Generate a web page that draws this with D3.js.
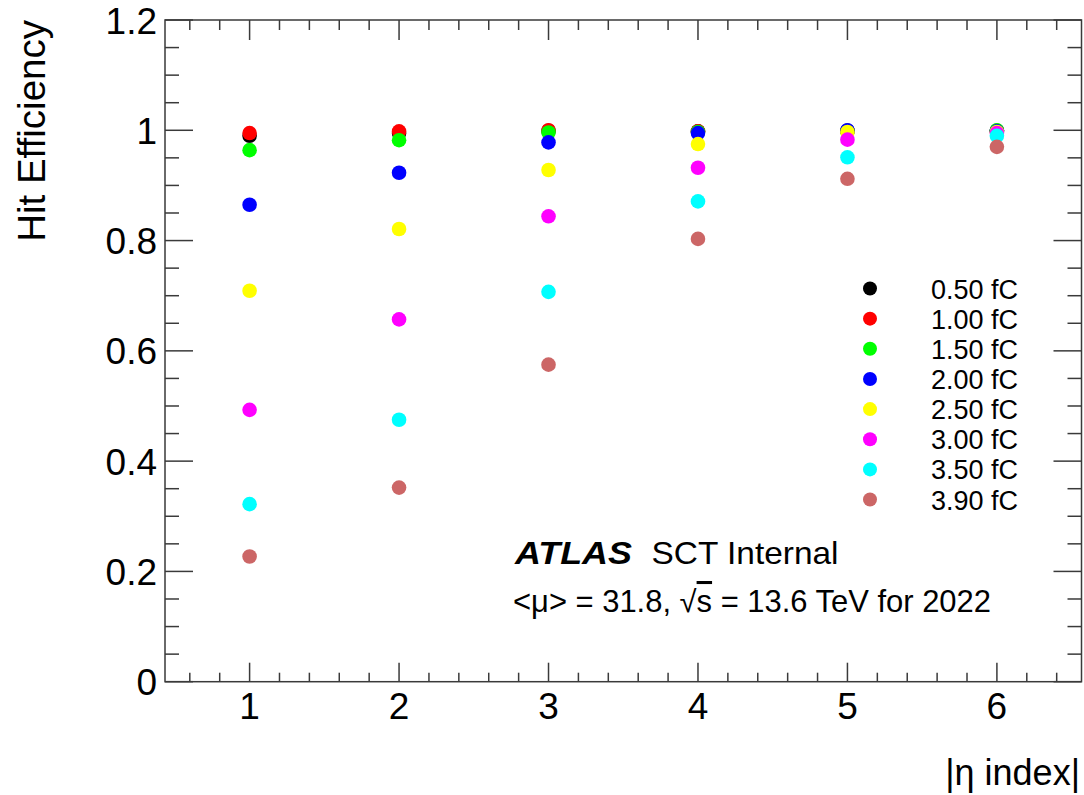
<!DOCTYPE html>
<html>
<head>
<meta charset="utf-8">
<script src="https://cdn.jsdelivr.net/npm/d3@7"></script>
<style>
  html, body { margin: 0; padding: 0; background: #fff; }
  svg { display: block; }
  text { font-family: "Liberation Sans", Arial, Helvetica, sans-serif; fill: #000; }
</style>
</head>
<body>
<svg id="chart" width="1084" height="795"></svg>
<script>
// ---- data ----
const etaIndex = [1, 2, 3, 4, 5, 6];
const seriesLabels = ["0.50 fC", "1.00 fC", "1.50 fC", "2.00 fC", "2.50 fC", "3.00 fC", "3.50 fC", "3.90 fC"];
const seriesColors = ["#000000", "#ff0000", "#00ff00", "#0000ff", "#ffff00", "#ff00ff", "#00ffff", "#cc6666"];
const eff050 = [0.990, 0.995, 0.999, 0.998, 0.999, 0.999];
const eff100 = [0.995, 0.998, 1.000, 0.998, 0.999, 0.999];
const eff150 = [0.964, 0.982, 0.996, 0.997, 0.999, 1.000];
const eff200 = [0.865, 0.923, 0.978, 0.995, 1.000, 0.998];
const eff250 = [0.709, 0.821, 0.928, 0.975, 0.997, 0.997];
const eff300 = [0.493, 0.657, 0.844, 0.932, 0.983, 0.995];
const eff350 = [0.322, 0.475, 0.707, 0.871, 0.951, 0.990];
const eff390 = [0.227, 0.352, 0.575, 0.803, 0.912, 0.970];
const seriesValues = [eff050, eff100, eff150, eff200, eff250, eff300, eff350, eff390];
const yTickValues = [0, 0.2, 0.4, 0.6, 0.8, 1, 1.2];
const yTickLabels = ["0", "0.2", "0.4", "0.6", "0.8", "1", "1.2"];
const xTickLabels = ["1", "2", "3", "4", "5", "6"];

// ---- layout ----
const svg = d3.select("#chart");
const L = 165, R = 1081.5, T = 20, B = 681.7;
const x = d3.scaleLinear().domain([0.434, 6.566]).range([L, R]);
const y = d3.scaleLinear().domain([0, 1.2]).range([B, T]);
const frameColor = "#3a3a3a";

// frame
svg.append("rect").attr("x", L).attr("y", T).attr("width", R - L).attr("height", B - T)
  .attr("fill", "none").attr("stroke", frameColor).attr("stroke-width", 1.5);

// ticks
const xMinor = d3.range(0.6, 6.45, 0.2).filter(v => Math.abs(v - Math.round(v)) > 0.01);
const yMinor = d3.range(0.05, 1.2, 0.05).filter(v => Math.abs(v * 5 - Math.round(v * 5)) > 0.01);
const tg = svg.append("g").attr("stroke", frameColor).attr("stroke-width", 1.5);
etaIndex.forEach(v => {
  tg.append("line").attr("x1", x(v)).attr("x2", x(v)).attr("y1", B).attr("y2", B - 19);
  tg.append("line").attr("x1", x(v)).attr("x2", x(v)).attr("y1", T).attr("y2", T + 20);
});
xMinor.forEach(v => {
  tg.append("line").attr("x1", x(v)).attr("x2", x(v)).attr("y1", B).attr("y2", B - 9);
  tg.append("line").attr("x1", x(v)).attr("x2", x(v)).attr("y1", T).attr("y2", T + 10);
});
yTickValues.forEach(v => {
  tg.append("line").attr("x1", L).attr("x2", L + 28).attr("y1", y(v)).attr("y2", y(v));
  tg.append("line").attr("x1", R).attr("x2", R - 28).attr("y1", y(v)).attr("y2", y(v));
});
yMinor.forEach(v => {
  tg.append("line").attr("x1", L).attr("x2", L + 14).attr("y1", y(v)).attr("y2", y(v));
  tg.append("line").attr("x1", R).attr("x2", R - 14).attr("y1", y(v)).attr("y2", y(v));
});

// tick labels
yTickValues.forEach((v, i) => {
  svg.append("text").attr("x", 157).attr("y", y(v) + 13.5).attr("text-anchor", "end")
    .attr("font-size", 37).text(yTickLabels[i]);
});
etaIndex.forEach((v, i) => {
  svg.append("text").attr("x", x(v)).attr("y", 718.5).attr("text-anchor", "middle")
    .attr("font-size", 37).text(xTickLabels[i]);
});

// axis titles
svg.append("text").attr("transform", "translate(45,20) rotate(-90)").attr("text-anchor", "end")
  .attr("font-size", 38.5).text("Hit Efficiency");
svg.append("text").attr("x", 1080).attr("y", 785).attr("text-anchor", "end")
  .attr("font-size", 36).text("|η index|");

// points
seriesValues.forEach((vals, s) => {
  svg.append("g").selectAll("circle").data(vals).join("circle")
    .attr("cx", (d, i) => x(etaIndex[i])).attr("cy", d => y(d)).attr("r", 7.3)
    .attr("fill", seriesColors[s]);
});

// legend
seriesLabels.forEach((lab, i) => {
  const ly = 288.5 + i * 30.15;
  svg.append("circle").attr("cx", 870).attr("cy", ly).attr("r", 7).attr("fill", seriesColors[i]);
  svg.append("text").attr("x", 931).attr("y", ly + 10).attr("font-size", 27).text(lab);
});

// ATLAS label
svg.append("text").attr("x", 515).attr("y", 563.5).attr("font-size", 30.5)
  .attr("font-weight", "bold").attr("font-style", "italic")
  .attr("textLength", 117).attr("lengthAdjust", "spacingAndGlyphs").text("ATLAS");
svg.append("text").attr("x", 651.5).attr("y", 563.5).attr("font-size", 30.5)
  .attr("textLength", 187).attr("lengthAdjust", "spacingAndGlyphs").text("SCT Internal");

const t2 = svg.append("text").attr("x", 513).attr("y", 612).attr("font-size", 30.5)
  .attr("textLength", 478).attr("lengthAdjust", "spacingAndGlyphs");
t2.append("tspan").text("<μ> = 31.8, √");
t2.append("tspan").style("text-decoration", "overline").text("s");
t2.append("tspan").text(" = 13.6 TeV for 2022");
</script>
</body>
</html>
